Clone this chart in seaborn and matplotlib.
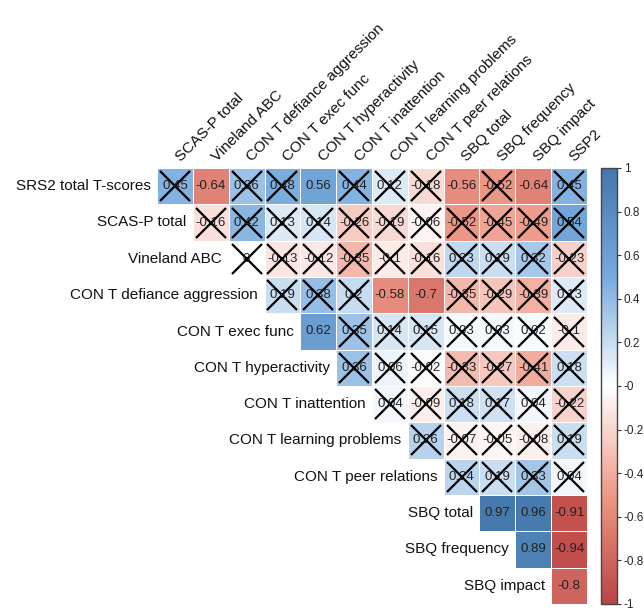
import numpy as np
import matplotlib
matplotlib.use("Agg")
import matplotlib.pyplot as plt
import seaborn as sns
from matplotlib.colors import LinearSegmentedColormap

ROW_LABELS = ["SRS2 total T-scores", "SCAS-P total", "Vineland ABC",
              "CON T defiance aggression", "CON T exec func", "CON T hyperactivity",
              "CON T inattention", "CON T learning problems", "CON T peer relations",
              "SBQ total", "SBQ frequency", "SBQ impact"]
COL_LABELS = ["SCAS-P total", "Vineland ABC", "CON T defiance aggression",
              "CON T exec func", "CON T hyperactivity", "CON T inattention",
              "CON T learning problems", "CON T peer relations", "SBQ total",
              "SBQ frequency", "SBQ impact", "SSP2"]

# upper triangle, one list per row, first entry sits on the diagonal column
R_VALUES = [
    [0.45, -0.64, 0.36, 0.48, 0.56, 0.44, 0.12, -0.18, -0.56, -0.52, -0.64, 0.45],
    [-0.16, 0.42, 0.13, 0.14, -0.26, -0.19, -0.06, -0.52, -0.45, -0.49, 0.54],
    [0, -0.13, -0.12, -0.35, -0.1, -0.16, 0.23, 0.19, 0.32, -0.23],
    [0.19, 0.38, 0.2, -0.58, -0.7, -0.35, -0.29, -0.39, 0.13],
    [0.62, 0.35, 0.14, 0.15, 0.03, 0.03, 0.02, -0.1],
    [0.36, 0.06, -0.02, -0.33, -0.27, -0.41, 0.18],
    [0.04, -0.09, 0.18, 0.17, 0.04, -0.22],
    [0.26, -0.07, -0.05, -0.08, 0.19],
    [0.24, 0.19, 0.33, 0.04],
    [0.97, 0.96, -0.91],
    [0.89, -0.94],
    [-0.8],
]

# 1 = significant, 0 = crossed out
SIGNIF = [
    [0, 1, 0, 0, 1, 0, 0, 0, 1, 0, 1, 0],
    [0, 0, 0, 0, 0, 0, 0, 0, 0, 0, 0],
    [0, 0, 0, 0, 0, 0, 0, 0, 0, 0],
    [0, 0, 0, 1, 1, 0, 0, 0, 0],
    [1, 0, 0, 0, 0, 0, 0, 0],
    [0, 0, 0, 0, 0, 0, 0],
    [0, 0, 0, 0, 0, 0],
    [0, 0, 0, 0, 0],
    [0, 0, 0, 0],
    [1, 1, 1],
    [1, 1],
    [1],
]

CORR_COLORS = ["#BB4444", "#EE9988", "#FFFFFF", "#77AADD", "#4477AA"]

sns.set_style("white")
plt.rcParams["font.family"] = ["Liberation Sans", "DejaVu Sans"]

n = len(ROW_LABELS)
mat = np.full((n, n), np.nan)
sig = np.ones((n, n), dtype=bool)
for i, (vals, sg) in enumerate(zip(R_VALUES, SIGNIF)):
    mat[i, i:] = vals
    sig[i, i:] = np.array(sg, dtype=bool)

labels = np.where(np.isnan(mat), "", np.vectorize(lambda v: f"{v:g}")(np.nan_to_num(mat)))
cmap = LinearSegmentedColormap.from_list("corr", CORR_COLORS, N=200)

fig = plt.figure(figsize=(6.44, 6.10), dpi=100)
ax = fig.add_axes([157 / 644, 6 / 610, 430 / 644, 436 / 610])
cax = fig.add_axes([601 / 644, 6 / 610, 16 / 644, 436 / 610])

sns.heatmap(mat, mask=np.isnan(mat), cmap=cmap, vmin=-1, vmax=1,
            annot=labels, fmt="", annot_kws={"size": 9.5, "color": "#222222"},
            linewidths=0.5, linecolor="white", cbar_ax=cax, ax=ax)

# crosses on non-significant cells
for i in range(n):
    for j in range(i, n):
        if not sig[i, j]:
            ax.plot(j + 0.5, i + 0.5, marker="x", ms=22, mew=1.6, color="black")

ax.set_xticks([])
ax.set_yticks([])
ax.set_xlim(0, n)
ax.set_ylim(n, 0)

for i, lab in enumerate(ROW_LABELS):
    ax.text(i - 0.18, i + 0.5, lab, ha="right", va="center", fontsize=11, color="#111111")
for j, lab in enumerate(COL_LABELS):
    ax.text(j + 0.72, -0.12, lab, ha="left", va="bottom", rotation=45,
            rotation_mode="anchor", fontsize=11, color="#111111")

cbar = ax.collections[0].colorbar
ticks = np.round(np.arange(-1, 1.01, 0.2), 1)
cbar.set_ticks(ticks)
cbar.set_ticklabels([f"{t:g}" for t in ticks])
cbar.ax.tick_params(labelsize=8.5, length=3, width=0.8, color="#333333",
                    direction="out", pad=2)
cbar.outline.set_edgecolor("#444444")
cbar.outline.set_linewidth(1)
cbar.outline.set_visible(True)

fig.savefig("out.png", dpi=100)
